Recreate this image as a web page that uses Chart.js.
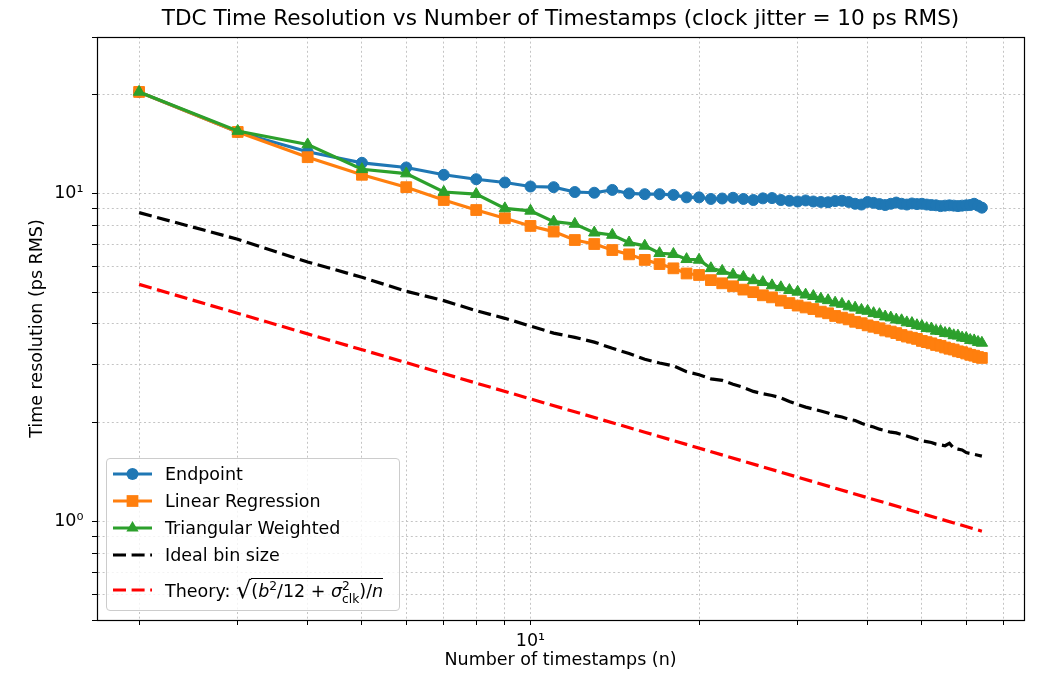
<!DOCTYPE html>
<html>
<head>
<meta charset="utf-8">
<script src="https://cdn.jsdelivr.net/npm/chart.js@4.4.1/dist/chart.umd.min.js"></script>
<style>
  body { margin: 0; background: #fff; }
  #wrap { position: relative; width: 1041px; height: 677px; font-family: "DejaVu Sans", sans-serif; color: #000; }
  #legend {
    position: absolute; left: 106px; top: 458px; width: 294px; height: 153px;
    box-sizing: border-box; border: 1px solid #cccccc; border-radius: 4px;
    background: rgba(255, 255, 255, 0.8);
  }
  .row { position: absolute; left: 0; display: flex; align-items: center; font-size: 17.5px; white-space: nowrap; }
  .row svg { margin-left: 5px; margin-right: 13px; flex: none; }
  .math i { font-style: oblique; }
  .math sup { font-size: 70%; vertical-align: 0.55em; line-height: 0; }
  .rt { display: inline-block; font-size: 24px; transform: translateY(1px); }
  .rad { display: inline-block; border-top: 1px solid #000; padding-top: 1px; line-height: 1.2; }
  .ss { display: inline-block; font-size: 70%; line-height: 1.0; vertical-align: -0.45em; }
  .ss span { display: block; }
</style>
</head>
<body>
<div id="wrap">
  <canvas id="chart" width="1041" height="677"></canvas>
  <div id="legend"></div>
</div>
<script>
// number of timestamps used per measurement
const nValues = [2, 3, 4, 5, 6, 7, 8, 9, 10, 11, 12, 13, 14, 15, 16, 17, 18, 19, 20,
  21, 22, 23, 24, 25, 26, 27, 28, 29, 30, 31, 32, 33, 34, 35, 36, 37, 38, 39, 40,
  41, 42, 43, 44, 45, 46, 47, 48, 49, 50, 51, 52, 53, 54, 55, 56, 57, 58, 59, 60,
  61, 62, 63, 64];

// RMS time resolution (ps) for each estimator
const endpointRes = [20.4, 15.4, 13.4, 12.4, 12.0, 11.4, 11.05, 10.8, 10.5, 10.45,
  10.1, 10.05, 10.25, 10.0, 9.95, 9.95, 9.9, 9.73, 9.73, 9.62, 9.65, 9.70, 9.62,
  9.55, 9.66, 9.68, 9.55, 9.50, 9.45, 9.52, 9.45, 9.42, 9.40, 9.48, 9.50, 9.42,
  9.30, 9.25, 9.42, 9.36, 9.28, 9.22, 9.30, 9.38, 9.30, 9.25, 9.32, 9.28, 9.30,
  9.25, 9.22, 9.20, 9.15, 9.18, 9.20, 9.18, 9.15, 9.18, 9.20, 9.22, 9.30, 9.18, 9.05];

const linearRes = [20.4, 15.4, 12.9, 11.4, 10.45, 9.55, 8.9, 8.4, 7.96, 7.65, 7.21,
  7.01, 6.72, 6.52, 6.27, 6.09, 5.91, 5.70, 5.64, 5.44, 5.32, 5.21, 5.09, 5.00,
  4.89, 4.82, 4.71, 4.63, 4.55, 4.49, 4.44, 4.36, 4.31, 4.23, 4.18, 4.13, 4.06,
  4.02, 3.96, 3.92, 3.88, 3.82, 3.79, 3.75, 3.70, 3.66, 3.63, 3.60, 3.55, 3.52,
  3.49, 3.45, 3.43, 3.39, 3.36, 3.34, 3.30, 3.28, 3.25, 3.22, 3.20, 3.17, 3.15];

const triangularRes = [20.4, 15.5, 14.1, 11.85, 11.5, 10.1, 9.95, 9.0, 8.85, 8.2,
  8.07, 7.59, 7.47, 7.08, 6.92, 6.57, 6.53, 6.30, 6.27, 5.91, 5.80, 5.65, 5.56,
  5.43, 5.36, 5.24, 5.17, 5.07, 5.01, 4.91, 4.86, 4.77, 4.72, 4.64, 4.60, 4.52,
  4.48, 4.41, 4.38, 4.31, 4.28, 4.21, 4.18, 4.12, 4.10, 4.04, 4.02, 3.96, 3.94,
  3.88, 3.87, 3.81, 3.80, 3.75, 3.74, 3.69, 3.68, 3.63, 3.62, 3.57, 3.56, 3.52, 3.50];

const idealBinRes = [8.74, 7.25, 6.18, 5.55, 5.03, 4.71, 4.39, 4.16, 3.94, 3.75,
  3.64, 3.52, 3.37, 3.25, 3.12, 3.04, 2.98, 2.86, 2.80, 2.72, 2.69, 2.62, 2.56,
  2.49, 2.45, 2.42, 2.38, 2.32, 2.27, 2.23, 2.20, 2.17, 2.14, 2.10, 2.08, 2.05,
  2.03, 1.99, 1.96, 1.94, 1.91, 1.89, 1.87, 1.86, 1.84, 1.82, 1.80, 1.78, 1.76,
  1.75, 1.74, 1.72, 1.71, 1.70, 1.73, 1.67, 1.66, 1.65, 1.62, 1.61, 1.60, 1.59, 1.58];

// theory curve is a straight line on log-log axes
const theoryN = [2, 4, 8, 16, 32, 64];
const theoryRes = [5.28, 3.73, 2.64, 1.87, 1.32, 0.933];

const xTickVals = [2, 3, 4, 5, 6, 7, 8, 9, 10, 20, 30, 40, 50, 60, 70];
const yTickVals = [0.5, 0.6, 0.7, 0.8, 0.9, 1, 2, 3, 4, 5, 6, 7, 8, 9, 10, 20, 30];
const tickText = { 1: '10⁰', 10: '10¹' };

const FONT = 'DejaVu Sans';
const toPoints = (xs, ys) => xs.map((x, i) => ({ x: x, y: ys[i] }));

const series = [
  { label: 'Endpoint', data: toPoints(nValues, endpointRes), color: '#1f77b4', marker: 'circle', r: 5.5, order: 5 },
  { label: 'Linear Regression', data: toPoints(nValues, linearRes), color: '#ff7f0e', marker: 'rect', r: 7.6, order: 4 },
  { label: 'Triangular Weighted', data: toPoints(nValues, triangularRes), color: '#2ca02c', marker: 'triangle', r: 6.6, order: 3 },
  { label: 'Ideal bin size', data: toPoints(nValues, idealBinRes), color: '#000000', dash: [13, 5.6], order: 2 },
  { label: 'Theory', data: toPoints(theoryN, theoryRes), color: '#ff0000', dash: [13, 5.6], order: 1 },
];

const datasets = series.map(s => ({
  label: s.label,
  data: s.data,
  borderColor: s.color,
  backgroundColor: s.color,
  borderWidth: 3.2,
  borderDash: s.dash || [],
  pointStyle: s.marker || false,
  pointRadius: s.marker ? s.r : 0,
  pointBorderWidth: 1,
  pointBorderColor: s.color,
  pointBackgroundColor: s.color,
  order: s.order,
  tension: 0,
}));

// full box around the plot area
const frame = {
  id: 'frame',
  afterDatasetsDraw(chart) {
    const { ctx, chartArea: a } = chart;
    ctx.save();
    ctx.strokeStyle = '#000';
    ctx.lineWidth = 1.2;
    ctx.strokeRect(Math.round(a.left) + 0.5, Math.round(a.top) + 0.5,
      Math.round(a.right - a.left), Math.round(a.bottom - a.top));
    ctx.restore();
  }
};

const tickFont = { family: FONT, size: 17.5 };
const gridOpts = { color: '#c4c4c4', lineWidth: 1, tickLength: 5, tickColor: '#000', tickWidth: 1 };
const borderOpts = { display: true, color: '#000', width: 1, dash: [2, 2.6] };

window.chart = new Chart(document.getElementById('chart'), {
  type: 'line',
  data: { datasets: datasets },
  options: {
    responsive: false,
    animation: false,
    devicePixelRatio: 1,
    layout: { padding: { left: 0, right: 17, top: 0, bottom: 0 } },
    plugins: {
      legend: { display: false },
      tooltip: { enabled: false },
      title: {
        display: true,
        fullSize: false,
        text: 'TDC Time Resolution vs Number of Timestamps (clock jitter = 10 ps RMS)',
        color: '#000',
        font: { family: FONT, size: 21.6, weight: 'normal' },
        padding: { top: 6.5, bottom: 4.6 }
      }
    },
    scales: {
      x: {
        type: 'logarithmic',
        min: 1.682,
        max: 76.1,
        afterBuildTicks: s => { s.ticks = xTickVals.map(v => ({ value: v })); },
        afterFit: s => { s.height = 57; },
        ticks: { autoSkip: false, maxRotation: 0, padding: 6, color: '#000', font: tickFont,
          callback: v => tickText[v] || '' },
        grid: gridOpts,
        border: borderOpts,
        title: { display: true, text: 'Number of timestamps (n)', color: '#000', font: tickFont,
          padding: { top: 0, bottom: 6.5 } }
      },
      y: {
        type: 'logarithmic',
        min: 0.5,
        max: 30,
        afterBuildTicks: s => { s.ticks = yTickVals.map(v => ({ value: v })); },
        afterFit: s => { s.width = 97; },
        ticks: { autoSkip: false, padding: 8.5, color: '#000', font: tickFont,
          callback: v => tickText[v] || '' },
        grid: gridOpts,
        border: borderOpts,
        title: { display: true, text: 'Time resolution (ps RMS)', color: '#000', font: tickFont,
          padding: { top: 27, bottom: 0 } }
      }
    }
  },
  plugins: [frame]
});

// legend drawn as html on top of the plot
const legendLabels = [
  'Endpoint',
  'Linear Regression',
  'Triangular Weighted',
  'Ideal bin size',
  'Theory: <span class="math"><span class="rt">√</span><span class="rad">(<i>b</i><sup>2</sup>/12 + <i>σ</i><span class="ss"><span>2</span><span>clk</span></span>)/<i>n</i></span></span>'
];
const rowCenters = [14.5, 41.8, 68.5, 96, 131];

function handleSvg(s) {
  const ns = 'http://www.w3.org/2000/svg';
  const svg = document.createElementNS(ns, 'svg');
  svg.setAttribute('width', 40);
  svg.setAttribute('height', 22);
  const line = document.createElementNS(ns, 'line');
  line.setAttribute('x1', 1); line.setAttribute('x2', 40);
  line.setAttribute('y1', 11); line.setAttribute('y2', 11);
  line.setAttribute('stroke', s.color);
  line.setAttribute('stroke-width', 3.2);
  if (s.dash) line.setAttribute('stroke-dasharray', s.dash.join(' '));
  svg.appendChild(line);
  let m = null;
  if (s.marker === 'circle') {
    m = document.createElementNS(ns, 'circle');
    m.setAttribute('cx', 20.5); m.setAttribute('cy', 11); m.setAttribute('r', s.r + 0.5);
  } else if (s.marker === 'rect') {
    const h = s.r * Math.SQRT1_2 + 0.5;
    m = document.createElementNS(ns, 'rect');
    m.setAttribute('x', 20.5 - h); m.setAttribute('y', 11 - h);
    m.setAttribute('width', 2 * h); m.setAttribute('height', 2 * h);
  } else if (s.marker === 'triangle') {
    const r = s.r + 0.5;
    const pts = [[20.5, 11 - r], [20.5 + r * 0.866, 11 + r / 2], [20.5 - r * 0.866, 11 + r / 2]];
    m = document.createElementNS(ns, 'polygon');
    m.setAttribute('points', pts.map(p => p.join(',')).join(' '));
  }
  if (m) { m.setAttribute('fill', s.color); svg.appendChild(m); }
  return svg;
}

const legendBox = document.getElementById('legend');
series.forEach((s, i) => {
  const row = document.createElement('div');
  row.className = 'row';
  row.style.top = (rowCenters[i] - 15) + 'px';
  row.style.height = '30px';
  row.appendChild(handleSvg(s));
  const txt = document.createElement('span');
  txt.innerHTML = legendLabels[i];
  row.appendChild(txt);
  legendBox.appendChild(row);
});
</script>
</body>
</html>
